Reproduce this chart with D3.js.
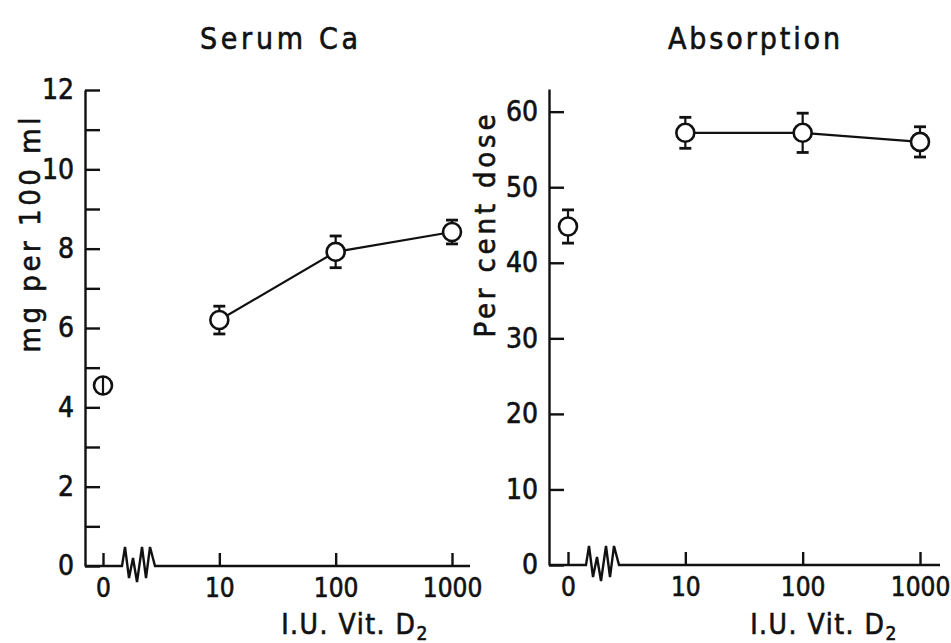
<!DOCTYPE html>
<html><head><meta charset="utf-8">
<script src="https://cdn.jsdelivr.net/npm/d3@7"></script>
<style>
body{margin:0;background:#fff;}
svg{display:block;}
text{font-family:"DejaVu Sans Condensed","DejaVu Sans",sans-serif;fill:#111;stroke:#111;stroke-width:0.6px;}
</style></head><body>
<svg id="c" width="951" height="643"></svg>
<script>
// ---- data ----
const doses = ["0", "10", "100", "1000"];
const serumCa = [4.55, 6.2, 7.92, 8.42];
const serumCaErr = [0.2, 0.35, 0.4, 0.3];
const absorption = [44.8, 57.2, 57.2, 56.0];
const absorptionErr = [2.2, 2.05, 2.6, 2.0];
const serumTicks = [0, 2, 4, 6, 8, 10, 12];
const serumMinorTicks = [1, 3, 5, 7, 9, 11];
const absTicks = [0, 10, 20, 30, 40, 50, 60];
const connected = ["10", "100", "1000"];

const svg = d3.select("#c");
const ink = "#111";

const panels = [
  {title: "Serum Ca", ylabel: "mg per 100 ml", vals: serumCa, errs: serumCaErr,
   yDomain: [0, 12], yRange: [566, 90], axisX: 85, xRange: [103, 452], xEnd: 470,
   ticks: serumTicks, minor: serumMinorTicks,
   titleX: 279, titleLen: 158, ylabX: 30, ylabY: 235, ylabLen: 235, xlabX: 355},
  {title: "Absorption", ylabel: "Per cent dose", vals: absorption, errs: absorptionErr,
   yDomain: [0, 63], yRange: [565, 89], axisX: 549, xRange: [568, 920], xEnd: 940,
   ticks: absTicks, minor: [],
   titleX: 754, titleLen: 172, ylabX: 485, ylabY: 226, ylabLen: 223, xlabX: 824}
];

// zigzag break shape offsets (layout only)
const zig = [[0,0],[3,-19],[7,12],[11,-8],[15,16],[20,-19],[24,12],[28,-19],[33,0]];

panels.forEach(p => {
  const g = svg.append("g");
  const x = d3.scalePoint().domain(doses).range(p.xRange);
  const y = d3.scaleLinear().domain(p.yDomain).range(p.yRange);
  const y0 = y(0);

  // y axis
  const ya = g.append("g").attr("transform", `translate(${p.axisX},0)`)
    .call(d3.axisLeft(y).tickValues(p.ticks).tickSize(-15).tickSizeOuter(0).tickPadding(11));
  ya.select(".domain").attr("stroke", ink).attr("stroke-width", 2.4);
  ya.selectAll(".tick line").attr("stroke", ink).attr("stroke-width", 2.4);
  ya.selectAll(".tick text").attr("font-size", 28).attr("font-family", null).style("fill", ink);
  if (p.minor.length) {
    const ym = g.append("g").attr("transform", `translate(${p.axisX},0)`)
      .call(d3.axisLeft(y).tickValues(p.minor).tickSize(-15).tickFormat(""));
    ym.select(".domain").remove();
    ym.selectAll(".tick line").attr("stroke", ink).attr("stroke-width", 2.4);
  }

  // x axis ticks & labels
  const xa = g.append("g").attr("transform", `translate(0,${y0})`)
    .call(d3.axisBottom(x).tickSize(-13).tickPadding(13));
  xa.select(".domain").remove();
  xa.selectAll(".tick line").attr("stroke", ink).attr("stroke-width", 2.4);
  xa.selectAll(".tick text").attr("font-size", 26).attr("font-family", null).style("fill", ink);

  // baseline with zigzag break
  const zx = p.axisX + 37;
  const pts = [[p.axisX, y0]].concat(zig.map(d => [zx + d[0], y0 + d[1]])).concat([[p.xEnd, y0]]);
  g.append("path").attr("d", d3.line()(pts)).attr("fill", "none")
    .attr("stroke", ink).attr("stroke-width", 2.4).attr("stroke-linejoin", "miter");

  // connecting line
  const conn = doses.map((d, i) => ({d, v: p.vals[i]})).filter(o => connected.includes(o.d));
  g.append("path").attr("d", d3.line().x(o => x(o.d)).y(o => y(o.v))(conn))
    .attr("fill", "none").attr("stroke", ink).attr("stroke-width", 2.2);

  const r = 9;
  doses.forEach((d, i) => {
    const cx = x(d), cy = y(p.vals[i]);
    const top = y(p.vals[i] + p.errs[i]), bot = y(p.vals[i] - p.errs[i]);
    g.append("circle").attr("cx", cx).attr("cy", cy).attr("r", r)
      .attr("fill", "#fff").attr("stroke", ink).attr("stroke-width", 2.6);
    if (cy - top > r) {
      g.append("line").attr("x1", cx).attr("x2", cx).attr("y1", top).attr("y2", cy - r)
        .attr("stroke", ink).attr("stroke-width", 2.2);
      g.append("line").attr("x1", cx).attr("x2", cx).attr("y1", cy + r).attr("y2", bot)
        .attr("stroke", ink).attr("stroke-width", 2.2);
      [top, bot].forEach(yy => g.append("line").attr("x1", cx - 6).attr("x2", cx + 6)
        .attr("y1", yy).attr("y2", yy).attr("stroke", ink).attr("stroke-width", 2.8));
    } else {
      g.append("line").attr("x1", cx).attr("x2", cx).attr("y1", cy - r).attr("y2", cy + r)
        .attr("stroke", ink).attr("stroke-width", 2.2);
    }
  });

  // title
  g.append("text").attr("x", p.titleX).attr("y", 49).attr("text-anchor", "middle")
    .attr("font-size", 30).attr("textLength", p.titleLen).attr("lengthAdjust", "spacing")
    .text(p.title);
  // y label
  g.append("text").attr("transform", `translate(${p.ylabX},${p.ylabY}) rotate(-90)`)
    .attr("text-anchor", "middle").attr("dy", "0.35em")
    .attr("font-size", 29).attr("textLength", p.ylabLen).attr("lengthAdjust", "spacing")
    .text(p.ylabel);
  // x label
  const xl = g.append("text").attr("x", p.xlabX).attr("y", 634).attr("text-anchor", "middle")
    .attr("font-size", 28).attr("letter-spacing", 1.5);
  xl.append("tspan").text("I.U. Vit. D");
  xl.append("tspan").attr("font-size", 19).attr("dy", 6).text("2");
});
</script>
</body></html>
